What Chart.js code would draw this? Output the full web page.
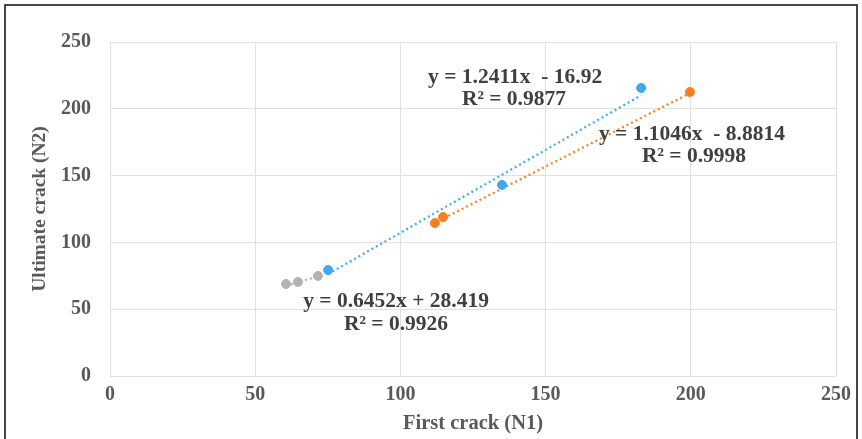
<!DOCTYPE html>
<html>
<head>
<meta charset="utf-8">
<script src="https://cdn.jsdelivr.net/npm/chart.js@4"></script>
<style>
  html, body { margin: 0; padding: 0; background: #fff; }
  #wrap { width: 862px; height: 439px; position: relative; }
</style>
</head>
<body>
<div id="wrap"><canvas id="c" width="862" height="439"></canvas></div>
<script>
// ---- data ----
const grayX = [60.6, 64.7, 71.6];
const grayY = [68.9, 70.4, 74.9];
const blueX = [75.1, 135.0, 182.9];
const blueY = [79.3, 143.0, 215.6];
const orangeX = [111.9, 114.7, 199.7];
const orangeY = [114.5, 119.0, 212.6];

// trendline coefficients shown on the chart
const slopes = [0.6452, 1.2411, 1.1046];
const intercepts = [28.419, -16.92, -8.8814];
const equations = ["y = 0.6452x + 28.419", "y = 1.2411x  - 16.92", "y = 1.1046x  - 8.8814"];
const rSquared = ["R² = 0.9926", "R² = 0.9877", "R² = 0.9998"];

const xTicks = [0, 50, 100, 150, 200, 250];
const yTicks = [0, 50, 100, 150, 200, 250];

const GRAY = '#b3b3b3', BLUE = '#3fa9ec', ORANGE = '#fa7f1c';

function pts(xs, ys) { return xs.map((x, i) => ({ x, y: ys[i] })); }
function trend(xs, k) {
  const lo = Math.min(...xs), hi = Math.max(...xs);
  return [{ x: lo, y: slopes[k] * lo + intercepts[k] }, { x: hi, y: slopes[k] * hi + intercepts[k] }];
}
function trendDs(xs, k, color) {
  return { type: 'line', data: trend(xs, k), borderColor: color, borderWidth: 2.2,
    borderDash: [2, 3], pointRadius: 0, fill: false, order: 2 };
}
function scatterDs(xs, ys, color) {
  return { type: 'scatter', data: pts(xs, ys), backgroundColor: color, borderColor: color,
    pointRadius: 4.5, pointHoverRadius: 4.5, order: 1 };
}

const FAMILY = "'Liberation Serif', 'Times New Roman', serif";
const FONT = { family: FAMILY, size: 20, weight: 'bold' };
const XTFONT = { family: FAMILY, size: 20.5, weight: 'bold' };
const YTFONT = { family: FAMILY, size: 19.5, weight: 'bold' };

const labelPlugin = {
  id: 'labels',
  afterDatasetsDraw(chart, args, opts) {
    const { ctx, scales: { x, y } } = chart;
    ctx.save();
    ctx.font = "bold 21.5px " + FAMILY;
    ctx.fillStyle = '#404040';
    ctx.textAlign = 'center';
    ctx.textBaseline = 'middle';
    opts.items.forEach(it => {
      ctx.fillText(it.text, x.getPixelForValue(it.x), y.getPixelForValue(it.y));
    });
    ctx.restore();
  }
};
const borderPlugin = {
  id: 'frame',
  afterDraw(chart) {
    const ctx = chart.ctx;
    ctx.save();
    ctx.strokeStyle = '#1a1a1a';
    ctx.lineWidth = 1.6;
    ctx.strokeRect(5, 5, 852, 460);
    ctx.restore();
  }
};

new Chart(document.getElementById('c'), {
  data: {
    datasets: [
      scatterDs(grayX, grayY, GRAY),
      scatterDs(blueX, blueY, BLUE),
      scatterDs(orangeX, orangeY, ORANGE),
      trendDs(grayX, 0, GRAY),
      trendDs(blueX, 1, BLUE),
      trendDs(orangeX, 2, ORANGE)
    ]
  },
  options: {
    responsive: false,
    animation: false,
    events: [],
    layout: { padding: { left: 0, right: 26, top: 42, bottom: 0 } },
    plugins: {
      legend: { display: false },
      tooltip: { enabled: false },
      labels: {
        items: [
          { text: equations[1], x: 139.5, y: 223.8 },
          { text: rSquared[1], x: 139.1, y: 207.3 },
          { text: equations[2], x: 200.4, y: 181.1 },
          { text: rSquared[2], x: 201.1, y: 164.7 },
          { text: equations[0], x: 98.5, y: 56.1 },
          { text: rSquared[0], x: 98.5, y: 38.9 }
        ]
      }
    },
    scales: {
      x: {
        type: 'linear', min: 0, max: 250,
        afterFit: s => { s.height = 63; },
        afterBuildTicks: s => { s.ticks = xTicks.map(v => ({ value: v })); },
        grid: { color: '#e0e0e0', lineWidth: 1, drawTicks: false },
        border: { display: false },
        ticks: { font: FONT, color: '#595959', padding: 7 },
        title: { display: true, text: 'First crack (N1)', font: XTFONT, color: '#595959', padding: { top: 0, bottom: 3 } }
      },
      y: {
        type: 'linear', min: 0, max: 250,
        afterFit: s => { s.width = 110; },
        afterBuildTicks: s => { s.ticks = yTicks.map(v => ({ value: v })); },
        grid: { color: '#e0e0e0', lineWidth: 1, drawTicks: false },
        border: { display: false },
        ticks: { font: FONT, color: '#595959', padding: 19 },
        title: { display: true, text: 'Ultimate crack (N2)', font: YTFONT, color: '#595959', padding: { top: 28, bottom: 0 } }
      }
    }
  },
  plugins: [labelPlugin, borderPlugin]
});
</script>
</body>
</html>
